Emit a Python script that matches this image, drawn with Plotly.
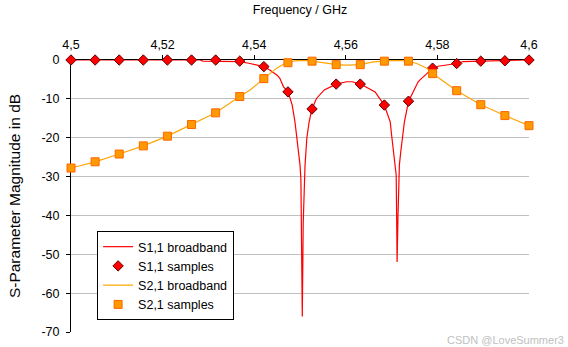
import plotly.graph_objects as go

# Sample frequencies (GHz) for the discrete S-parameter samples
sample_freq = [4.5, 4.505263, 4.510526, 4.515789, 4.521053, 4.526316, 4.531579,
               4.536842, 4.542105, 4.547368, 4.552632, 4.557895, 4.563158,
               4.568421, 4.573684, 4.578947, 4.584211, 4.589474, 4.594737, 4.6]
s11_samples = [0, 0, 0, 0, 0, 0, 0, -0.3, -1.7, -8.2, -12.6, -6.2, -6.2,
               -11.6, -10.6, -2.1, -0.9, -0.3, -0.2, 0]
s21_samples = [-27.8, -26.2, -24.2, -22.1, -19.6, -16.6, -13.6, -9.4, -4.8,
               -0.7, -0.3, -1.2, -1.2, -0.3, -0.3, -3.5, -7.9, -11.5, -14.3, -16.9]

# Broadband responses
s11_bb_freq = [4.5, 4.5282, 4.5288, 4.5369, 4.5391, 4.5421, 4.5434, 4.5450,
               4.5456, 4.5464, 4.5474, 4.5483, 4.5489, 4.5493, 4.5496, 4.5500,
               4.5502, 4.5503, 4.5505, 4.5507, 4.5509, 4.5511, 4.5515, 4.5520,
               4.5526, 4.5536, 4.5553, 4.5579, 4.5602, 4.5614, 4.5632, 4.5664,
               4.5684, 4.5697, 4.5700, 4.5704, 4.5707, 4.5710, 4.5711, 4.5712,
               4.5714, 4.5716, 4.5717, 4.5720, 4.5723, 4.5728, 4.5737, 4.5747,
               4.5758, 4.5762, 4.5790, 4.5801, 4.5817, 4.5843, 4.5856, 4.5895,
               4.5948, 4.5974, 4.6]
s11_bb_db = [0, 0, -0.3, -0.4, -0.9, -1.7, -2.6, -3.9,
             -4.7, -6.9, -8.2, -11.6, -15.9, -20, -23.6, -27,
             -31, -47, -66, -42, -32, -27, -20, -15.9,
             -12.6, -9.9, -7.7, -6.2, -5.6, -5.6, -6.2, -8.2,
             -11.6, -15.9, -19.3, -23.6, -26.2, -29.6, -40, -52,
             -40, -30, -27, -23.6, -20, -15.9, -10.6, -8.2,
             -5.6, -5.1, -2.1, -1.6, -1.3, -0.9, -0.4, -0.3,
             -0.2, -0.1, 0]

s21_bb_freq = [4.5, 4.505263, 4.510526, 4.515789, 4.521053, 4.526316, 4.531579,
               4.536842, 4.5391, 4.542105, 4.5449, 4.5467, 4.547368, 4.5489,
               4.5511, 4.552632, 4.5536, 4.5558, 4.557895, 4.5602, 4.563158,
               4.5660, 4.568421, 4.5703, 4.5733, 4.573684, 4.5755, 4.5777,
               4.578947, 4.584211, 4.589474, 4.594737, 4.6]
s21_bb_db = [-27.8, -26.2, -24.2, -22.1, -19.6, -16.6, -13.6,
             -9.4, -7.7, -4.8, -2.1, -0.9, -0.7, -0.2,
             -0.1, -0.3, -0.4, -0.8, -1.2, -1.3, -1.2,
             -0.5, -0.3, -0.1, -0.2, -0.3, -0.9, -2.1,
             -3.5, -7.9, -11.5, -14.3, -16.9]

x_tick_vals = [4.5, 4.52, 4.54, 4.56, 4.58, 4.6]
x_tick_text = ["4,5", "4,52", "4,54", "4,56", "4,58", "4,6"]
y_tick_vals = [0, -10, -20, -30, -40, -50, -60, -70]
y_tick_text = ["0", "-10", "-20", "-30", "-40", "-50", "-60", "-70"]

FONT = "Liberation Sans, Arial, sans-serif"

fig = go.Figure()
fig.add_trace(go.Scatter(x=s11_bb_freq, y=s11_bb_db, mode="lines",
                         name="S1,1 broadband",
                         line=dict(color="#ff0000", width=1.2),
                         cliponaxis=False))
fig.add_trace(go.Scatter(x=sample_freq, y=s11_samples, mode="markers",
                         name="S1,1 samples",
                         marker=dict(symbol="diamond", size=8, color="#ff0000",
                                     line=dict(color="#600000", width=1)),
                         cliponaxis=False))
fig.add_trace(go.Scatter(x=s21_bb_freq, y=s21_bb_db, mode="lines",
                         name="S2,1 broadband",
                         line=dict(color="#ffa500", width=1.2),
                         cliponaxis=False))
fig.add_trace(go.Scatter(x=sample_freq, y=s21_samples, mode="markers",
                         name="S2,1 samples",
                         marker=dict(symbol="square", size=8, color="#ff9900",
                                     line=dict(color="#ff6600", width=1)),
                         cliponaxis=False))

fig.update_layout(
    width=568, height=347,
    margin=dict(l=71, r=39, t=60, b=15),
    paper_bgcolor="white", plot_bgcolor="white",
    font=dict(family=FONT, size=12, color="black"),
    showlegend=True,
    legend=dict(x=0.057, y=0.044, xanchor="left", yanchor="bottom",
                bgcolor="white", bordercolor="black", borderwidth=1,
                font=dict(family=FONT, size=12.5, color="black"),
                tracegroupgap=0, itemwidth=30),
    xaxis=dict(
        side="top", range=[4.5, 4.6],
        tickvals=x_tick_vals, ticktext=x_tick_text,
        ticks="outside", ticklen=4, tickcolor="black",
        showline=True, linecolor="black", linewidth=1,
        showgrid=False, zeroline=False, layer="below traces",
        ticklabelstandoff=1, automargin=False,
        title=dict(text="Frequency / GHz", standoff=20,
                   font=dict(family=FONT, size=12.5)),
        tickfont=dict(family=FONT, size=12.5),
    ),
    yaxis=dict(
        range=[-70, 0],
        tickvals=y_tick_vals, ticktext=y_tick_text,
        ticks="outside", ticklen=4, tickcolor="black",
        showline=True, linecolor="black", linewidth=1,
        showgrid=True, gridcolor="#c0c0c0", gridwidth=1,
        zeroline=False, layer="below traces",
        ticklabelstandoff=4, automargin=False,
        title=dict(text="S-Parameter Magnitude in dB", standoff=16,
                   font=dict(family=FONT, size=15.5)),
        tickfont=dict(family=FONT, size=12.5),
    ),
)

fig.add_annotation(text="CSDN @LoveSummer3", xref="paper", yref="paper",
                   x=1.081, y=-0.03, xanchor="right", yanchor="middle",
                   showarrow=False, bgcolor="white",
                   font=dict(family=FONT, size=11, color="#c0c0c0"))

fig.write_html("out.html")
